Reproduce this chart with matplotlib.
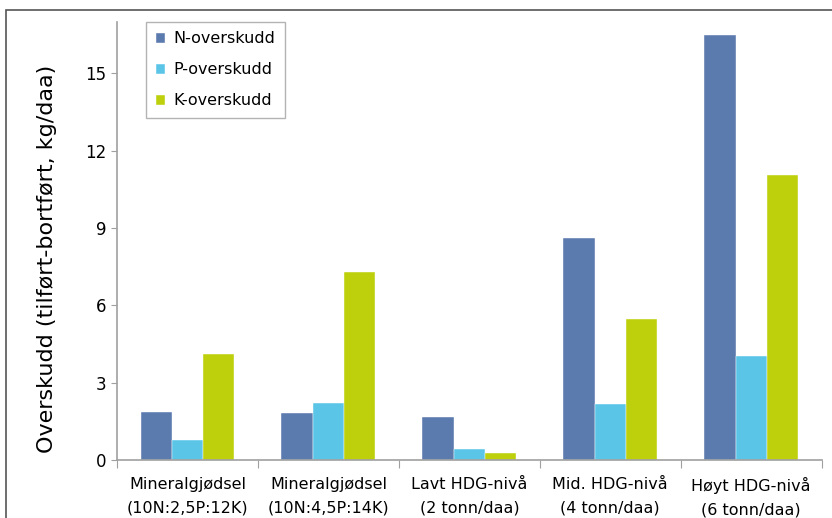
import numpy as np
import matplotlib
matplotlib.use('Agg')
import matplotlib.pyplot as plt
from matplotlib.patches import Rectangle

plt.rcParams['font.family'] = ['DejaVu Sans']

categories = ["Mineralgjødsel\n(10N:2,5P:12K)", "Mineralgjødsel\n(10N:4,5P:14K)",
              "Lavt HDG-nivå\n(2 tonn/daa)", "Mid. HDG-nivå\n(4 tonn/daa)",
              "Høyt HDG-nivå\n(6 tonn/daa)"]
n_over = [1.85, 1.82, 1.67, 8.6, 16.5]
p_over = [0.77, 2.2, 0.43, 2.17, 4.03]
k_over = [4.1, 7.3, 0.27, 5.47, 11.05]
series = ["N-overskudd", "P-overskudd", "K-overskudd"]
colors = ["#5B7AAE", "#5BC5E8", "#BDD00B"]

fig = plt.figure(figsize=(8.32, 5.18), dpi=100)
ax = fig.add_axes([0.1406, 0.112, 0.847, 0.846])

# outer chart frame
fig.patches.append(Rectangle((0.007, -0.1), 1.2, 1.081, transform=fig.transFigure,
                             fill=False, edgecolor="#555555", linewidth=1.2))

x = np.arange(len(categories))
w = 0.222
for i, (vals, name, c) in enumerate(zip([n_over, p_over, k_over], series, colors)):
    ax.bar(x + (i - 1) * w, vals, w, color=c, label=name,
           edgecolor="white", linewidth=0.3)

ax.set_xlim(-0.5, len(categories) - 0.5)
ax.set_ylim(0, 17)
ax.set_yticks(np.arange(0, 16, 3))
ax.set_xticks(np.arange(-0.5, len(categories)), labels=[])
ax.set_xticks(x, labels=categories, minor=True)
for lbl in ax.get_xticklabels(minor=True):
    lbl.set_linespacing(1.75)
ax.tick_params(axis='x', which='major', length=6, direction='out', color="#A0A0A0")
ax.tick_params(axis='x', which='minor', length=0, labelsize=11.5, pad=12)
ax.tick_params(axis='y', length=4, color="#A0A0A0", labelsize=12)

for s in ["top", "right"]:
    ax.spines[s].set_visible(False)
for s in ["left", "bottom"]:
    ax.spines[s].set_color("#A0A0A0")
    ax.spines[s].set_linewidth(1.2)

ax.set_ylabel("Overskudd (tilført-bortført, kg/daa)", fontsize=16)
ax.yaxis.set_label_coords(-0.085, 0.46)

leg = ax.legend(loc="upper left", bbox_to_anchor=(0.03, 1.018), fontsize=11.5,
                fancybox=False, edgecolor="#A0A0A0", handlelength=0.6,
                handleheight=0.6, labelspacing=1.0, borderpad=0.6, handletextpad=0.5)
leg.get_frame().set_linewidth(1.0)

plt.savefig("out.png", dpi=100)
